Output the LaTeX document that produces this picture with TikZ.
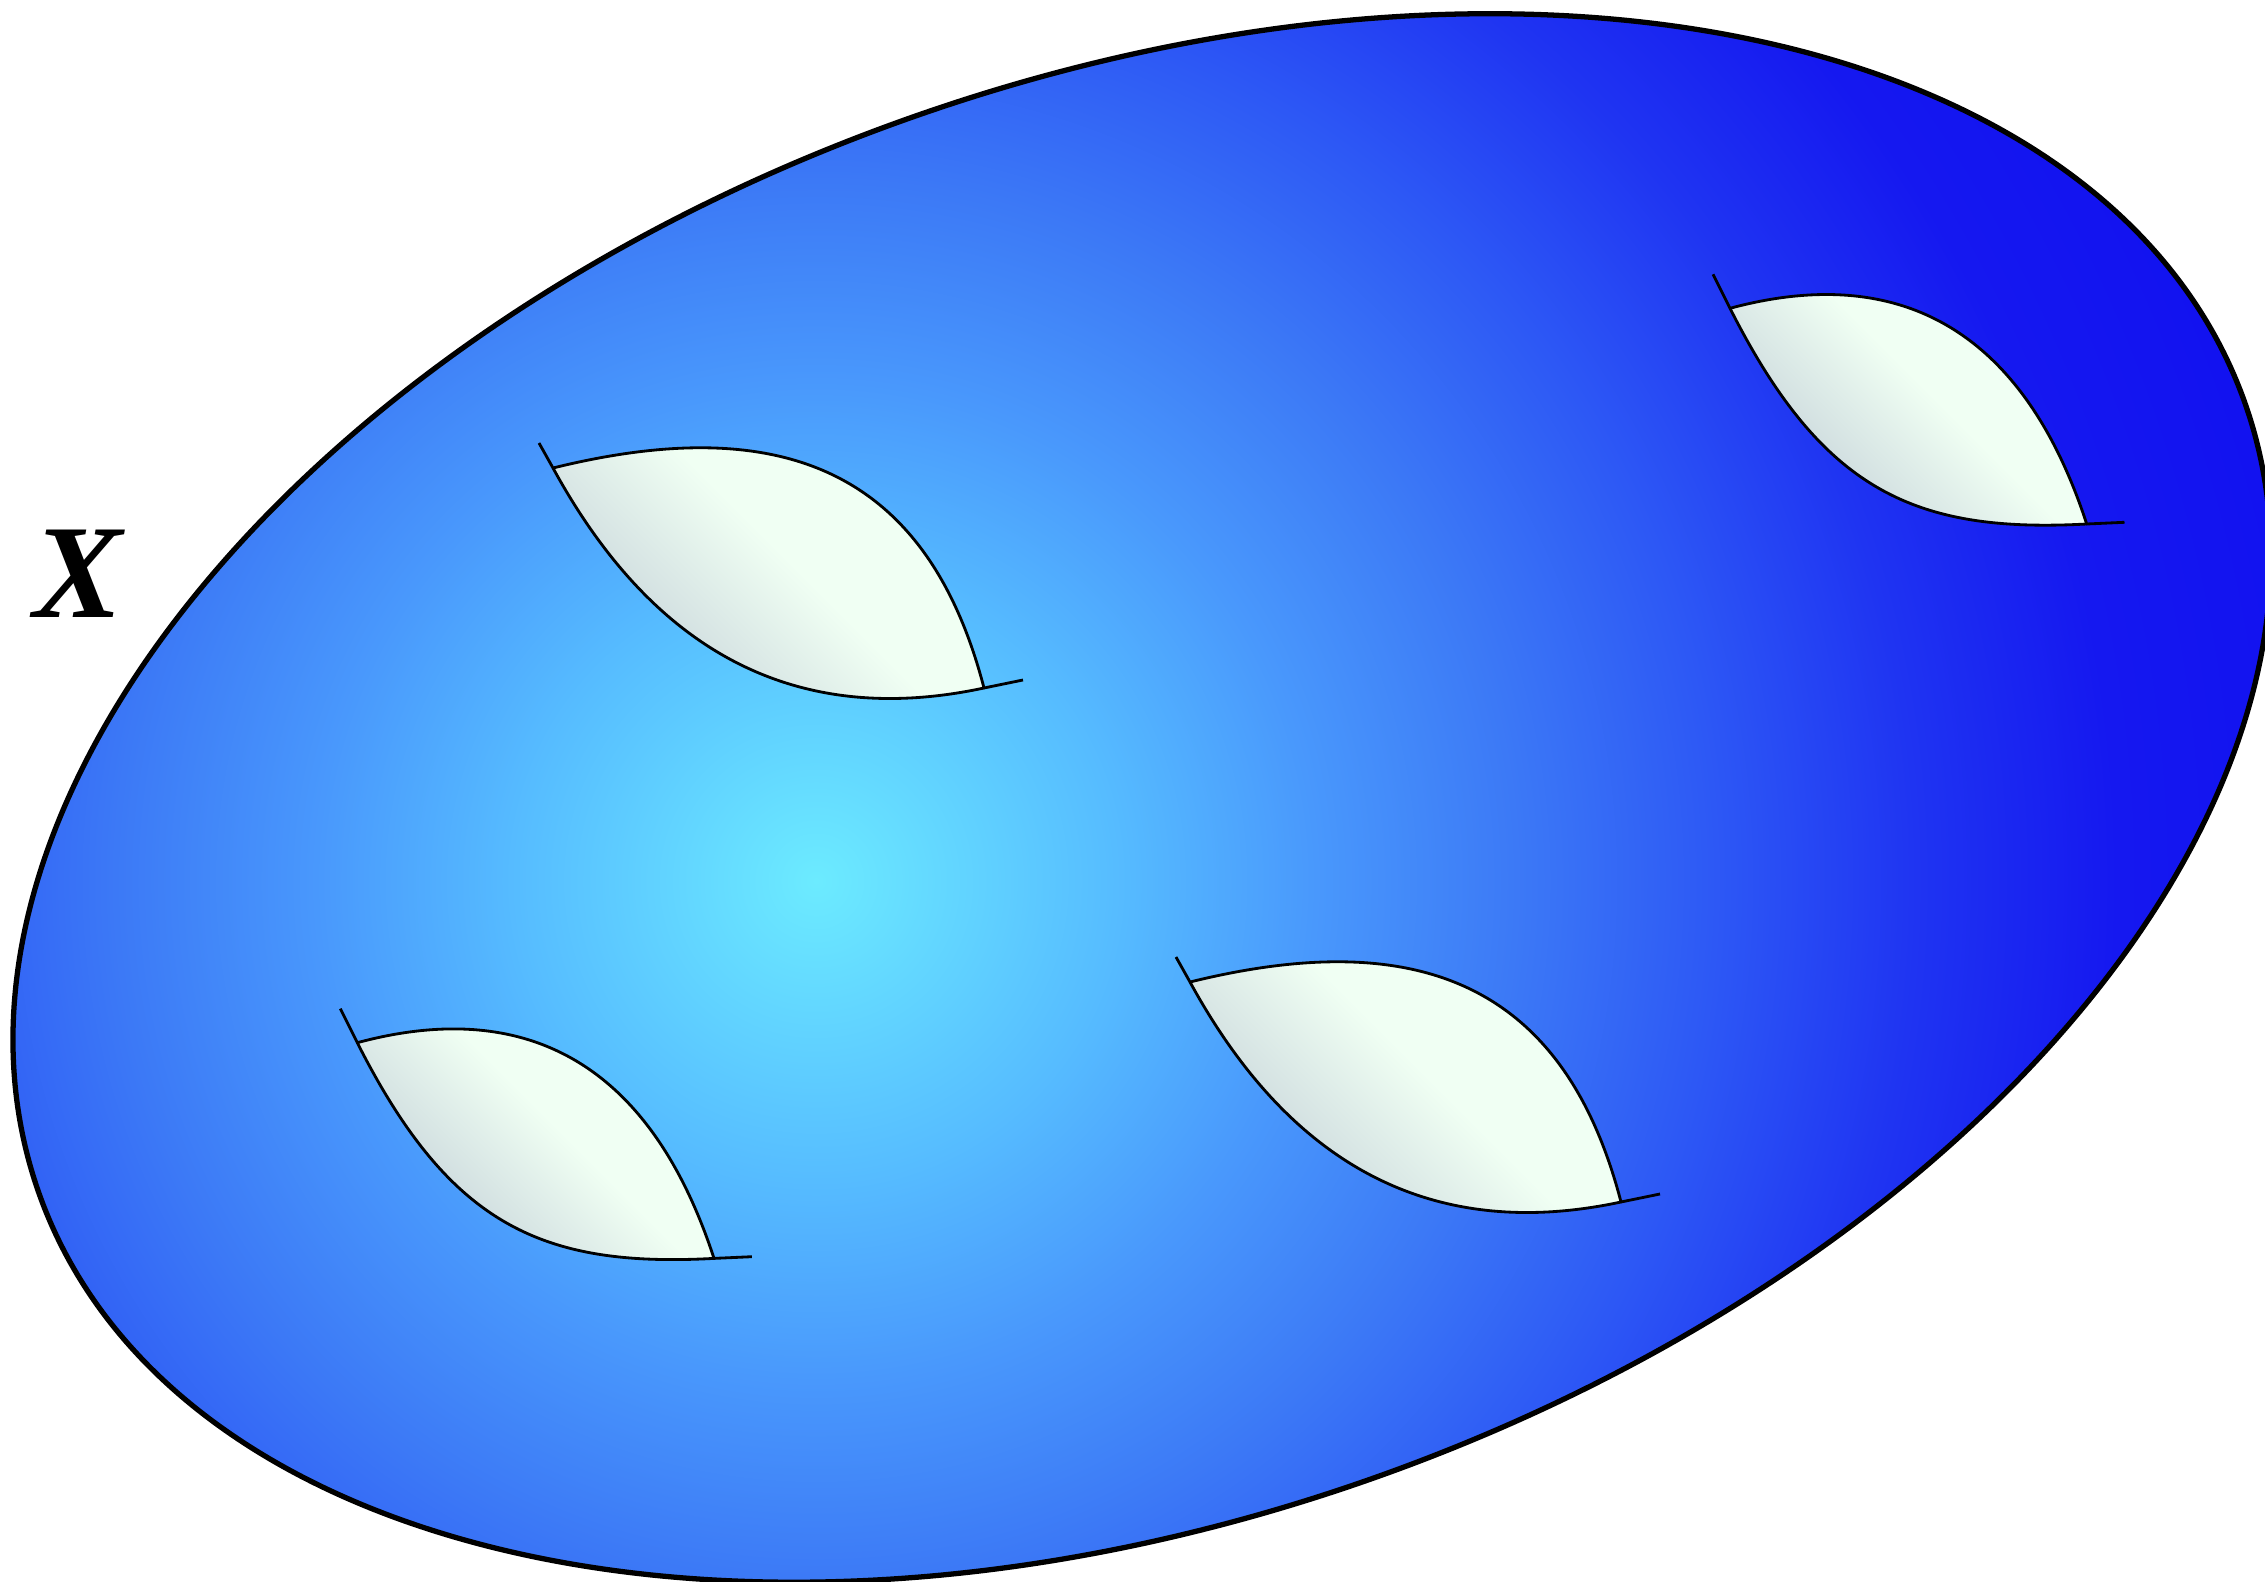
\documentclass[tikz,border=0pt]{standalone}
\usepackage{fontspec}
\setmainfont{Liberation Serif}
\definecolor{c0}{RGB}{108,235,255}
\definecolor{c1}{RGB}{86,188,255}
\definecolor{c2}{RGB}{73,152,252}
\definecolor{c3}{RGB}{60,121,246}
\definecolor{c4}{RGB}{45,88,245}
\definecolor{c5}{RGB}{31,52,242}
\definecolor{c6}{RGB}{21,24,240}
\definecolor{c7}{RGB}{18,18,240}
\definecolor{lensgray}{RGB}{200,213,219}
\definecolor{lenslight}{RGB}{240,255,243}
\pgfdeclareradialshading{bgshade}{\pgfpoint{0bp}{0bp}}{color(0bp)=(c0); color(5bp)=(c1); color(8.33bp)=(c2); color(11.67bp)=(c3); color(15bp)=(c4); color(18.33bp)=(c5); color(21.67bp)=(c6); color(25bp)=(c7); color(50bp)=(c7)}
\pgfdeclarehorizontalshading{lensshade}{100bp}{color(0bp)=(lensgray); color(29bp)=(lensgray); color(53bp)=(lenslight); color(100bp)=(lenslight)}
\tikzset{
  outline/.style={draw=black, line width=1.5pt},
  lensfill/.style={shading=lensshade, shading angle=45},
  lensline/.style={draw=black, line width=0.8pt, line join=round},
  xlabel/.style={inner sep=0pt, font=\fontsize{38}{40}\selectfont\bfseries\itshape}
}
\newcommand\biglens[2]{%
  \begin{scope}[shift={(#1,#2)}]
    \shade[lensfill] (0,0) .. controls (223,-55) and (373,-3) .. (431,220)
      .. controls (235,262) and (96,176) .. (0,0) -- cycle;
    \draw[lensline] (-14,-25) -- (0,0) .. controls (223,-55) and (373,-3) .. (431,220) -- (470,212);
    \draw[lensline] (431,220) .. controls (235,262) and (96,176) .. (0,0);
  \end{scope}}
\newcommand\smalllens[2]{%
  \begin{scope}[shift={(#1,#2)}]
    \shade[lensfill] (0,0) .. controls (173.7,-46.8) and (294.7,25.7) .. (356.7,215.7)
      .. controls (184,225) and (92,182) .. (0,0) -- cycle;
    \draw[lensline] (-17,-34) -- (0,0) .. controls (173.7,-46.8) and (294.7,25.7) .. (356.7,215.7) -- (394.5,214);
    \draw[lensline] (356.7,215.7) .. controls (184,225) and (92,182) .. (0,0);
  \end{scope}}
\begin{document}
\begin{tikzpicture}[x=0.01cm,y=-0.01cm]
\useasboundingbox (0,0) rectangle (2265,1582);
\clip (0,0) rectangle (2265,1582);
\coordinate (ec) at (1142,798);
\begin{scope}
  \clip[rotate around={19.85:(ec)}] (ec) ellipse[x radius=11.71cm, y radius=7.18cm];
  \fill[c7] (0,0) rectangle (2265,1582);
  \shade[shading=bgshade] (816,881) circle[radius=15cm];
\end{scope}
\draw[outline, rotate around={19.85:(ec)}] (ec) ellipse[x radius=11.71cm, y radius=7.18cm];
\biglens{553}{468}
\biglens{1190}{982}
\smalllens{1730}{308.3}
\smalllens{357.3}{1042.7}
\node[xlabel] (X) at (78,573.5) {X};
\end{tikzpicture}
\end{document}
